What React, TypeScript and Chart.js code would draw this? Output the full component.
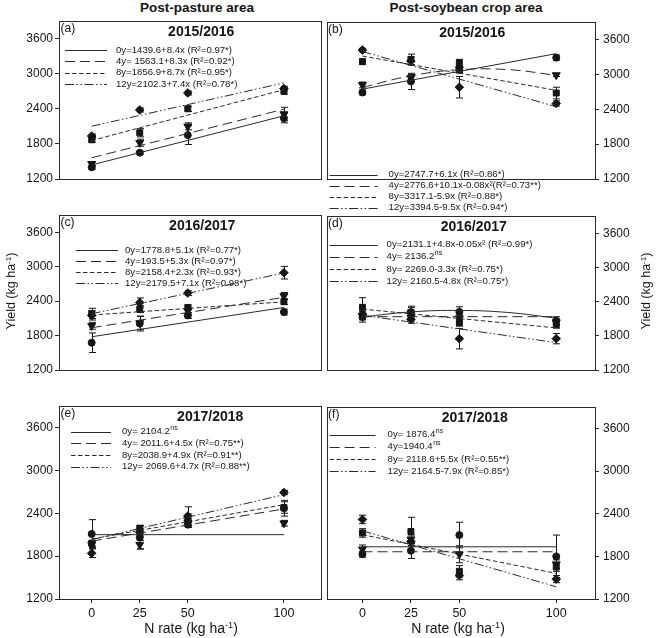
import React, { useEffect, useRef } from "react";
import { Chart, registerables } from "chart.js";
Chart.register(...registerables);

// ---------- data ----------
const nRates = [0, 25, 50, 100];
const xTicks = [0, 25, 50, 100];
const yTicks = [1200, 1800, 2400, 3000, 3600];
const ageLabels = ["0y", "4y", "8y", "12y"];
const fitXLinear = [0, 100];
const fitXCurve = [0, 25, 50, 75, 100];

// (a) Post-pasture 2015/2016
const aYield = [[1400, 1650, 1950, 2240], [1460, 1820, 2100, 2310], [1870, 1990, 2400, 2700], [1935, 2380, 2670, 2745]];
const aErr = [[30, 25, 160, 80], [35, 60, 60, 115], [40, 70, 45, 50], [35, 35, 35, 40]];
const aFit = [[1440, 2280], [1563, 2393], [1857, 2727], [2102, 2842]];
const aLegend = ["0y=1439.6+8.4x (R²=0.97*)", "4y= 1563.1+8.3x (R²=0.92*)", "8y=1856.9+8.7x (R²=0.95*)", "12y=2102.3+7.4x (R²=0.78*)"];

// (b) Post-soybean 2015/2016
const bYield = [[2690, 2880, 3080, 3290], [2820, 2940, 3090, 2990], [3220, 3260, 3200, 2680], [3420, 3230, 2780, 2500]];
const bErr = [[40, 140, 50, 45], [50, 60, 60, 25], [45, 90, 60, 100], [30, 70, 185, 45]];
const bFit = [[2748, 3358], [2777, 2977, 3082, 3084, 2987], [3317, 2727], [3395, 2445]];
const bLegend = ["0y=2747.7+6.1x (R²=0.86*)", "4y=2776.6+10.1x-0.08x²(R²=0.73**)", "8y=3317.1-5.9x (R²=0.88*)", "12y=3394.5-9.5x (R²=0.94*)"];

// (c) Post-pasture 2016/2017
const cYield = [[1675, 2010, 2150, 2210], [1970, 2020, 2230, 2490], [2185, 2260, 2290, 2390], [2150, 2375, 2540, 2895]];
const cErr = [[170, 130, 50, 50], [60, 110, 60, 60], [90, 60, 40, 50], [80, 80, 40, 110]];
const cFit = [[1779, 2289], [1936, 2466], [2158, 2388], [2180, 2890]];
const cLegend = ["0y=1778.8+5.1x (R²=0.77*)", "4y=193.5+5.3x (R²=0.97*)", "8y=2158.4+2.3x (R²=0.93*)", "12y=2179.5+7.1x (R²=0.98*)"];

// (d) Post-soybean 2016/2017
const dYield = [[2130, 2215, 2220, 2065], [2150, 2120, 2110, 2040], [2300, 2210, 2030, 1995], [2180, 2090, 1750, 1750]];
const dErr = [[90, 80, 90, 70], [70, 60, 60, 50], [170, 110, 60, 60], [80, 70, 180, 90]];
const dFit = [[2131, 2220, 2246, 2210, 2111], [2136, 2136], [2269, 1939], [2161, 1681]];
const dLegend = ["0y=2131.1+4.8x-0.05x² (R²=0.99*)", "4y= 2136.2^ns", "8y= 2269.0-3.3x (R²=0.75*)", "12y= 2160.5-4.8x (R²=0.75*)"];

// (e) Post-pasture 2017/2018
const eYield = [[2110, 2060, 2240, 2470], [1960, 1960, 2270, 2260], [1980, 2190, 2330, 2480], [1840, 2130, 2360, 2690]];
const eErr = [[200, 160, 40, 110], [40, 60, 50, 40], [40, 40, 60, 80], [60, 50, 130, 30]];
const eFit = [[2100, 2100], [2010, 2460], [2040, 2520], [2030, 2660]];
const eLegend = ["0y= 2104.2^ns", "4y= 2011.6+4.5x (R²=0.75**)", "8y=2038.9+4.9x (R²=0.91**)", "12y= 2069.6+4.7x (R²=0.88**)"];

// (f) Post-soybean 2017/2018
const fYield = [[1830, 1880, 2100, 1800], [1900, 2040, 1830, 1690], [2130, 2150, 1590, 1650], [2320, 2010, 1530, 1480]];
const fErr = [[40, 110, 180, 300], [60, 60, 120, 60], [60, 200, 80, 60], [60, 60, 60, 50]];
const fFit = [[1935, 1935], [1865, 1865], [2105, 1560], [2160, 1372]];
const fLegend = ["0y= 1876.4^ns", "4y=1940.4^ns", "8y= 2118.6+5.5x (R²=0.55**)", "12y= 2164.5-7.9x (R²=0.85*)"];

// ---------- styles / layout ----------
const FONT = "'Liberation Sans', Arial, Helvetica, sans-serif";
const INK = "#151515";
const LINE = "#2a2a2a";
const dashes = [[], [10, 5], [4.5, 2.5], [9, 2.5, 1.5, 2.5, 1.5, 2.5]];
const pointStyles = ["circle", "triangle", "rect", "rectRot"];
const pointRot = [0, 180, 0, 0];
const pointRad = [3.5, 4.6, 4.2, 4.3];

const colGeom = [
  { left: 0, width: 327, axisW: 59, padL: 0, padR: 3, pos: "left", xMin: -17, xMax: 119.5, tickPad: 2 },
  { left: 321, width: 337, axisW: 63, padL: 3, padR: 0, pos: "right", xMin: -18.5, xMax: 120, tickPad: 4 },
];
const rowGeom = [
  { top: 21, bottom: 215 },
  { top: 215, bottom: 406 },
  { top: 406, bottom: 599 },
];
const PAD = 10;
const XAXIS_H = 36;

type Spec = {
  letter: string; title: string; col: number; row: number;
  yields: number[][]; errs: number[][]; fits: number[][]; legend: string[];
  titleDx: number; lg: { x0: number; x1: number; tx: number; y0: number; dy: number };
};

const specs: Spec[] = [
  { letter: "(a)", title: "2015/2016", col: 0, row: 0, yields: aYield, errs: aErr, fits: aFit, legend: aLegend, titleDx: 11, lg: { x0: 6, x1: 48, tx: 57, y0: 29, dy: 11.3 } },
  { letter: "(b)", title: "2015/2016", col: 1, row: 0, yields: bYield, errs: bErr, fits: bFit, legend: bLegend, titleDx: 11.5, lg: { x0: 3, x1: 51, tx: 62, y0: 152.3, dy: 11.1 } },
  { letter: "(c)", title: "2016/2017", col: 0, row: 1, yields: cYield, errs: cErr, fits: cFit, legend: cLegend, titleDx: 12, lg: { x0: 17, x1: 59, tx: 66, y0: 35, dy: 11.1 } },
  { letter: "(d)", title: "2016/2017", col: 1, row: 1, yields: dYield, errs: dErr, fits: dFit, legend: dLegend, titleDx: 13, lg: { x0: 3, x1: 51, tx: 60, y0: 28.3, dy: 12.2 } },
  { letter: "(e)", title: "2017/2018", col: 0, row: 2, yields: eYield, errs: eErr, fits: eFit, legend: eLegend, titleDx: 20, lg: { x0: 12, x1: 52, tx: 63, y0: 25.7, dy: 11.7 } },
  { letter: "(f)", title: "2017/2018", col: 1, row: 2, yields: fYield, errs: fErr, fits: fFit, legend: fLegend, titleDx: 14, lg: { x0: 3, x1: 49, tx: 61, y0: 27.3, dy: 12.2 } },
];

function Panel({ spec }: { spec: Spec }) {
  const ref = useRef<HTMLCanvasElement>(null);
  const col = colGeom[spec.col];
  const row = rowGeom[spec.row];
  const isBottom = spec.row === 2;
  const h = row.bottom - row.top + PAD + (isBottom ? XAXIS_H : PAD);
  const top = row.top - PAD;

  useEffect(() => {
    const datasets: any[] = [];
    spec.fits.forEach((fit, i) => {
      const xs = fit.length === 2 ? fitXLinear : fitXCurve;
      datasets.push({
        label: ageLabels[i] + " fit",
        data: fit.map((v, k) => ({ x: xs[k], y: v })),
        showLine: true,
        pointRadius: 0,
        borderColor: LINE,
        borderWidth: 1,
        borderDash: dashes[i],
        tension: fit.length > 2 ? 0.4 : 0,
        fill: false,
      });
    });
    spec.yields.forEach((ys, i) => {
      datasets.push({
        label: ageLabels[i],
        data: ys.map((v, k) => ({ x: nRates[k], y: v })),
        errs: spec.errs[i],
        showLine: false,
        pointStyle: pointStyles[i],
        rotation: pointRot[i],
        pointRotation: pointRot[i],
        pointRadius: pointRad[i],
        backgroundColor: INK,
        borderColor: INK,
        borderWidth: 1,
      });
    });

    const decor = {
      id: "decor",
      beforeDatasetsDraw(chart: any) {
        const ctx = chart.ctx;
        const xs = chart.scales.x;
        const ys = chart.scales.y;
        ctx.save();
        ctx.strokeStyle = INK;
        ctx.lineWidth = 1;
        ctx.setLineDash([]);
        chart.data.datasets.forEach((ds: any) => {
          if (!ds.errs) return;
          ds.data.forEach((p: any, j: number) => {
            const px = Math.round(xs.getPixelForValue(p.x)) + 0.5;
            const y1 = ys.getPixelForValue(p.y + ds.errs[j]);
            const y2 = ys.getPixelForValue(p.y - ds.errs[j]);
            ctx.beginPath();
            ctx.moveTo(px, y1); ctx.lineTo(px, y2);
            ctx.moveTo(px - 3.5, y1); ctx.lineTo(px + 3.5, y1);
            ctx.moveTo(px - 3.5, y2); ctx.lineTo(px + 3.5, y2);
            ctx.stroke();
          });
        });
        ctx.restore();
      },
      afterDraw(chart: any) {
        const ctx = chart.ctx;
        const a = chart.chartArea;
        ctx.save();
        // box
        ctx.strokeStyle = LINE;
        ctx.lineWidth = 1;
        ctx.setLineDash([]);
        ctx.strokeRect(Math.round(a.left) + 0.5, Math.round(a.top) + 0.5, Math.round(a.right - a.left), Math.round(a.bottom - a.top));
        // letter
        ctx.fillStyle = INK;
        ctx.textBaseline = "middle";
        ctx.textAlign = "left";
        ctx.font = `12px ${FONT}`;
        ctx.fillText(spec.letter, a.left + 1.5, a.top + 7.5);
        // title
        ctx.font = `bold 14px ${FONT}`;
        ctx.textAlign = "center";
        ctx.fillText(spec.title, (a.left + a.right) / 2 + spec.titleDx, a.top + 11);
        // legend
        const lg = spec.lg;
        spec.legend.forEach((txt, i) => {
          const y = a.top + lg.y0 + i * lg.dy;
          ctx.strokeStyle = LINE;
          ctx.lineWidth = 1;
          ctx.setLineDash(dashes[i]);
          ctx.beginPath();
          ctx.moveTo(a.left + lg.x0, Math.round(y) + 0.5);
          ctx.lineTo(a.left + lg.x1, Math.round(y) + 0.5);
          ctx.stroke();
          ctx.setLineDash([]);
          const parts = txt.split("^");
          ctx.textAlign = "left";
          ctx.font = `9.6px ${FONT}`;
          ctx.fillText(parts[0], a.left + lg.tx, y);
          if (parts[1]) {
            const w = ctx.measureText(parts[0]).width;
            ctx.font = `7px ${FONT}`;
            ctx.fillText(parts[1], a.left + lg.tx + w + 0.5, y - 3.5);
          }
        });
        ctx.restore();
      },
    };

    const chart = new Chart(ref.current as HTMLCanvasElement, {
      type: "scatter",
      data: { datasets },
      options: {
        animation: false,
        responsive: false,
        devicePixelRatio: 1,
        layout: { padding: { left: col.padL, right: col.padR, top: PAD, bottom: isBottom ? 0 : PAD } },
        plugins: { legend: { display: false }, tooltip: { enabled: false } },
        scales: {
          x: {
            type: "linear",
            min: col.xMin,
            max: col.xMax,
            display: isBottom,
            afterBuildTicks: (s: any) => { s.ticks = xTicks.map((v) => ({ value: v })); },
            afterFit: (s: any) => { s.height = XAXIS_H; },
            grid: { display: true, drawOnChartArea: false, drawTicks: true, tickLength: 4, color: LINE, lineWidth: 1 },
            border: { display: false },
            ticks: { color: INK, font: { family: FONT, size: 12.5 }, padding: 3, maxRotation: 0, callback: (v: any) => String(v) },
          },
          y: {
            type: "linear",
            position: col.pos as any,
            min: 1200,
            max: 3900,
            afterBuildTicks: (s: any) => { s.ticks = yTicks.map((v) => ({ value: v })); },
            afterFit: (s: any) => { s.width = col.axisW; },
            grid: { display: true, drawOnChartArea: false, drawTicks: true, tickLength: 4, color: LINE, lineWidth: 1 },
            border: { display: false },
            ticks: { color: INK, font: { family: FONT, size: 12 }, padding: col.tickPad, callback: (v: any) => String(v) },
          },
        },
      } as any,
      plugins: [decor],
    } as any);
    return () => chart.destroy();
  }, []);

  return (
    <canvas
      ref={ref}
      width={col.width}
      height={h}
      style={{ position: "absolute", left: col.left, top, width: col.width, height: h }}
    />
  );
}

const sup: React.CSSProperties = { fontSize: "0.65em", position: "relative", top: "-0.55em" };

export default function App() {
  return (
    <div style={{ position: "absolute", left: 0, top: 0, width: 658, height: 638, background: "#fff", fontFamily: FONT, color: INK, overflow: "hidden" }}>
      <div style={{ position: "absolute", left: 97, top: 0, width: 200, textAlign: "center", fontWeight: "bold", fontSize: 13.5, lineHeight: "15px" }}>Post-pasture area</div>
      <div style={{ position: "absolute", left: 366, top: 0, width: 200, textAlign: "center", fontWeight: "bold", fontSize: 13.5, lineHeight: "15px" }}>Post-soybean crop area</div>
      {specs.map((s) => <Panel key={s.letter} spec={s} />)}
      <div style={{ position: "absolute", left: 91, top: 620, width: 200, textAlign: "center", fontSize: 14, lineHeight: "16px" }}>N rate (kg ha<span style={sup}>-1</span>)</div>
      <div style={{ position: "absolute", left: 358, top: 620, width: 200, textAlign: "center", fontSize: 14, lineHeight: "16px" }}>N rate (kg ha<span style={sup}>-1</span>)</div>
      <div style={{ position: "absolute", left: 11 - 60, top: 291 - 8, width: 120, height: 16, textAlign: "center", fontSize: 12.5, lineHeight: "16px", transform: "rotate(-90deg)" }}>Yield (kg ha<span style={sup}>-1</span>)</div>
      <div style={{ position: "absolute", left: 646 - 60, top: 291 - 8, width: 120, height: 16, textAlign: "center", fontSize: 12.5, lineHeight: "16px", transform: "rotate(-90deg)" }}>Yield (kg ha<span style={sup}>-1</span>)</div>
    </div>
  );
}
